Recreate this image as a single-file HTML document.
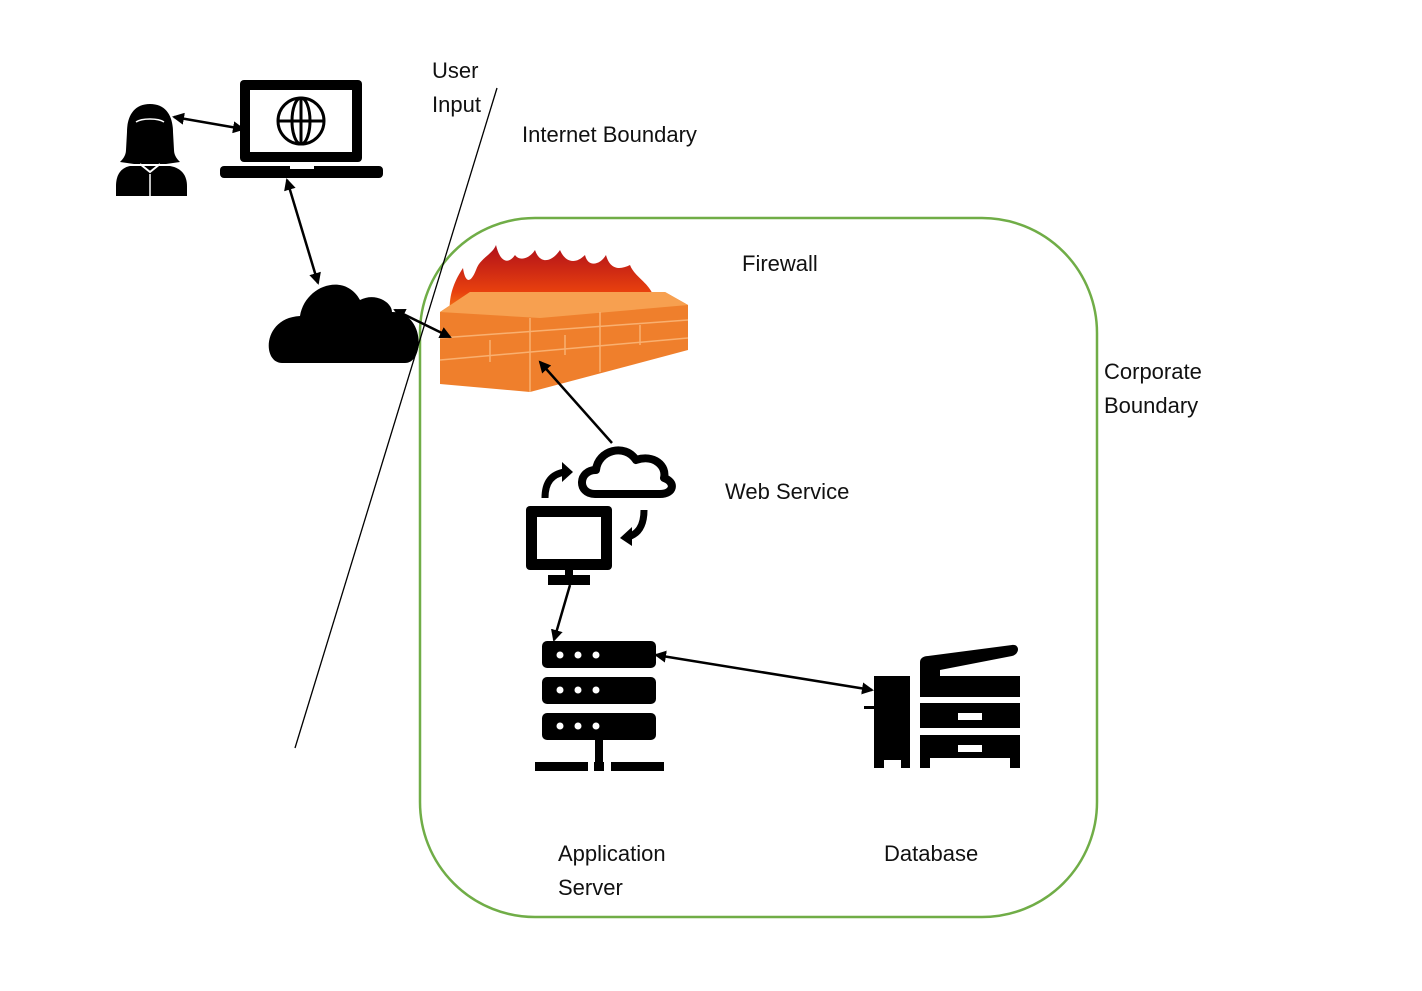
<!DOCTYPE html>
<html><head><meta charset="utf-8"><style>
html,body{margin:0;padding:0;background:#fff;}
svg{display:block;}
text{font-family:"Liberation Sans",sans-serif;font-size:22px;fill:#111;}
</style></head><body>
<svg width="1422" height="991" viewBox="0 0 1422 991" xmlns="http://www.w3.org/2000/svg">
<defs>
<marker id="a" markerWidth="12" markerHeight="12" refX="10" refY="6" orient="auto-start-reverse" markerUnits="userSpaceOnUse"><path d="M0,0 L12,6 L0,12 z" fill="#000"/></marker>
<linearGradient id="fl" x1="0" y1="0" x2="0" y2="1"><stop offset="0" stop-color="#b0101a"/><stop offset="0.55" stop-color="#e8400e"/><stop offset="1" stop-color="#ffb020"/></linearGradient>
</defs>
<!-- corporate boundary -->
<rect x="420" y="218" width="677" height="699" rx="115" ry="115" fill="none" stroke="#70ad47" stroke-width="2.5"/>
<!-- internet boundary line -->
<line x1="497" y1="88" x2="295" y2="748" stroke="#000" stroke-width="1.3"/>
<!-- person -->
<g fill="#000">
<path d="M150,104 C134,104 127,116 127,132 L126,150 C126,156 122,160 120,162 L134,164 L166,164 L180,162 C178,160 174,156 174,150 L173,132 C173,116 166,104 150,104z"/>
<path d="M130,166 L170,166 C182,168 187,176 187,186 L187,196 L116,196 L116,186 C116,176 120,168 130,166z"/>
</g>
<path d="M136,122 C142,118 158,118 164,122" stroke="#fff" stroke-width="1.5" fill="none"/>
<path d="M140,164 L150,172 L160,164" stroke="#fff" stroke-width="2" fill="none"/>
<line x1="150" y1="174" x2="150" y2="196" stroke="#fff" stroke-width="1.5"/>
<!-- laptop -->
<rect x="240" y="80" width="122" height="82" rx="4" fill="#000"/>
<rect x="250" y="90" width="102" height="62" fill="#fff"/>
<rect x="220" y="166" width="163" height="12" rx="4" fill="#000"/>
<rect x="290" y="166" width="24" height="3" fill="#fff"/>
<g fill="none" stroke="#000" stroke-width="3">
<circle cx="301" cy="121" r="23"/><ellipse cx="301" cy="121" rx="9" ry="23"/><line x1="278" y1="121" x2="324" y2="121"/><line x1="301" y1="98" x2="301" y2="144"/>
</g>
<!-- cloud -->
<path d="M282,363 C262,363 262,318 300,316 C305,285 345,272 360,300 C375,292 392,302 392,312 C425,312 425,363 405,363 Z" fill="#000"/>
<!-- flames -->
<path d="M450,315 C448,295 455,280 463,268 C465,282 470,285 476,270 C480,258 492,255 496,245 C500,262 508,265 515,255 C520,262 530,258 535,250 C540,265 552,262 560,250 C565,262 575,265 585,255 C588,268 600,265 606,255 C610,270 620,270 630,265 C635,278 650,282 655,300 L655,320 L450,330z" fill="url(#fl)"/>
<!-- wall -->
<polygon points="440,312 470,292 665,292 688,305 688,350 530,392 440,384" fill="#ef7f2c"/>
<polygon points="440,312 470,292 665,292 688,305 540,318" fill="#f7a050"/>
<g stroke="#f9b070" stroke-width="1.5" fill="none">
<line x1="440" y1="338" x2="688" y2="320"/><line x1="440" y1="360" x2="688" y2="338"/>
<line x1="530" y1="318" x2="530" y2="392"/><line x1="600" y1="312" x2="600" y2="372"/><line x1="490" y1="340" x2="490" y2="362"/><line x1="565" y1="335" x2="565" y2="355"/><line x1="640" y1="325" x2="640" y2="345"/>
</g>
<!-- web service -->
<path d="M595,494 C577,494 578,470 596,470 C598,450 625,443 636,460 C654,454 667,466 664,478 C676,482 674,494 660,494 Z" fill="#fff" stroke="#000" stroke-width="8" stroke-linejoin="round"/>
<rect x="526" y="506" width="86" height="64" rx="4" fill="#000"/>
<rect x="537" y="517" width="64" height="42" fill="#fff"/>
<rect x="565" y="570" width="8" height="8" fill="#000"/>
<rect x="548" y="575" width="42" height="10" fill="#000"/>
<path d="M545,498 C545,482 552,474 565,472" fill="none" stroke="#000" stroke-width="7"/>
<polygon points="562,462 573,472 562,482" fill="#000"/>
<path d="M644,510 C644,526 638,534 628,537" fill="none" stroke="#000" stroke-width="7"/>
<polygon points="632,527 620,538 632,546" fill="#000"/>
<!-- server -->
<g fill="#000">
<rect x="542" y="641" width="114" height="27" rx="5"/>
<rect x="542" y="677" width="114" height="27" rx="5"/>
<rect x="542" y="713" width="114" height="27" rx="5"/>
<rect x="595" y="740" width="8" height="24"/>
<rect x="535" y="762" width="53" height="9"/><rect x="594" y="762" width="10" height="9"/><rect x="611" y="762" width="53" height="9"/>
</g>
<g fill="#fff">
<circle cx="560" cy="655" r="3.5"/><circle cx="578" cy="655" r="3.5"/><circle cx="596" cy="655" r="3.5"/>
<circle cx="560" cy="690" r="3.5"/><circle cx="578" cy="690" r="3.5"/><circle cx="596" cy="690" r="3.5"/>
<circle cx="560" cy="726" r="3.5"/><circle cx="578" cy="726" r="3.5"/><circle cx="596" cy="726" r="3.5"/>
</g>
<!-- database (copier) -->
<g fill="#000">
<rect x="874" y="676" width="36" height="92"/>
<path d="M920,668 L920,662 C920,658 924,656 928,656 L1012,645 C1020,644 1020,654 1012,656 L940,670 L940,676 L1020,676 L1020,697 L920,697 Z"/>
<rect x="920" y="703" width="100" height="25"/>
<rect x="920" y="735" width="100" height="33"/>
<rect x="864" y="706" width="10" height="3"/>
</g>
<rect x="958" y="713" width="24" height="7" fill="#fff"/>
<rect x="958" y="745" width="24" height="7" fill="#fff"/>
<rect x="884" y="760" width="17" height="8" fill="#fff"/>
<rect x="930" y="758" width="80" height="10" fill="#fff"/>
<!-- connectors -->
<g stroke="#000" stroke-width="2.5" fill="none">
<line x1="174" y1="117" x2="243" y2="129" marker-start="url(#a)" marker-end="url(#a)"/>
<line x1="287" y1="180" x2="318" y2="283" marker-start="url(#a)" marker-end="url(#a)"/>
<line x1="395" y1="310" x2="450" y2="337" marker-start="url(#a)" marker-end="url(#a)"/>
<line x1="612" y1="443" x2="540" y2="362" marker-end="url(#a)"/>
<line x1="570" y1="585" x2="554" y2="640" marker-end="url(#a)"/>
<line x1="656" y1="655" x2="872" y2="690" marker-start="url(#a)" marker-end="url(#a)"/>
</g>
<!-- labels -->
<text x="432" y="78">User</text>
<text x="432" y="112">Input</text>
<text x="522" y="142">Internet Boundary</text>
<text x="742" y="271">Firewall</text>
<text x="1104" y="379">Corporate</text>
<text x="1104" y="413">Boundary</text>
<text x="725" y="499">Web Service</text>
<text x="558" y="861">Application</text>
<text x="558" y="895">Server</text>
<text x="884" y="861">Database</text>
</svg>
</body></html>
